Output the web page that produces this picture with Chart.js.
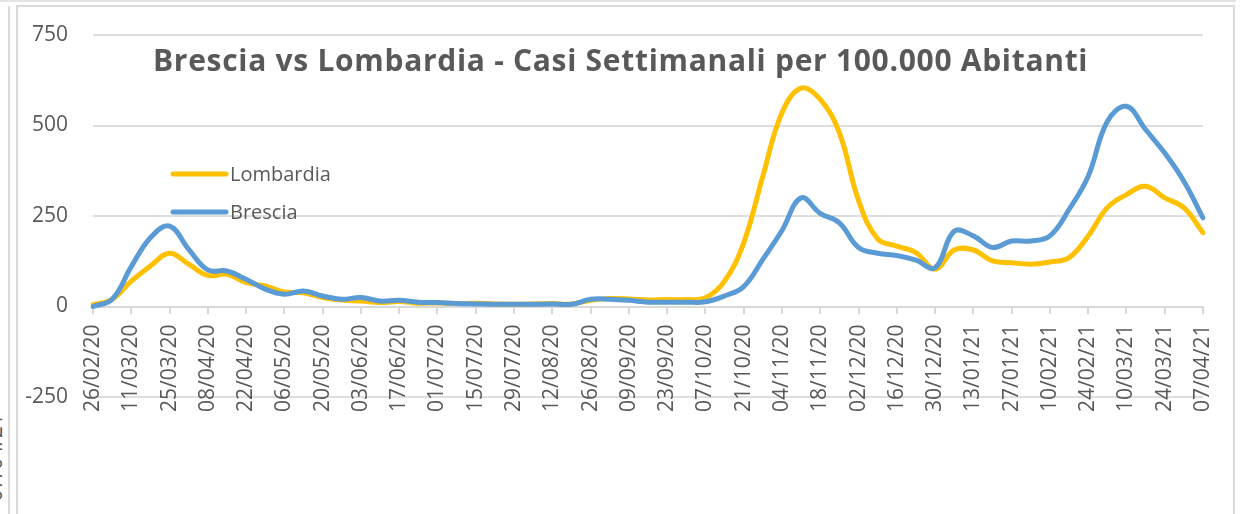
<!DOCTYPE html>
<html>
<head>
<meta charset="utf-8">
<script src="https://cdn.jsdelivr.net/npm/chart.js@4.4.1/dist/chart.umd.min.js"></script>
<style>
  html, body { margin: 0; padding: 0; background: #fff; width: 1246px; height: 514px; overflow: hidden; }
  .topline { position: absolute; left: 0; top: 0; width: 1236px; height: 2px; background: #e4e4e4; }
  .sideline { position: absolute; left: 8px; top: 6px; width: 2px; height: 520px; background: #dadada; }
  .frame { position: absolute; left: 16px; top: 5px; width: 1219px; height: 530px; box-sizing: border-box;
           border: 2px solid #dadada; border-bottom: none; }
  .cut { position: absolute; left: -20px; top: 414px; font: 21px 'Open Sans', sans-serif; color: #595959;
         writing-mode: vertical-rl; transform: rotate(180deg); }
  #chart { position: absolute; left: 19px; top: 7px; }
</style>
</head>
<body>
<div class="topline"></div>
<div class="sideline"></div>
<div class="cut">07/04/21</div>
<div class="frame"></div>
<canvas id="chart" width="1214" height="507"></canvas>
<script>
// weekly dates, one label is shown every two weeks
const weeks = [
  '26/02/20', '04/03/20', '11/03/20', '18/03/20', '25/03/20', '01/04/20', '08/04/20', '15/04/20',
  '22/04/20', '29/04/20', '06/05/20', '13/05/20', '20/05/20', '27/05/20', '03/06/20', '10/06/20',
  '17/06/20', '24/06/20', '01/07/20', '08/07/20', '15/07/20', '22/07/20', '29/07/20', '05/08/20',
  '12/08/20', '19/08/20', '26/08/20', '02/09/20', '09/09/20', '16/09/20', '23/09/20', '30/09/20',
  '07/10/20', '14/10/20', '21/10/20', '28/10/20', '04/11/20', '11/11/20', '18/11/20', '25/11/20',
  '02/12/20', '09/12/20', '16/12/20', '23/12/20', '30/12/20', '06/01/21', '13/01/21', '20/01/21',
  '27/01/21', '03/02/21', '10/02/21', '17/02/21', '24/02/21', '03/03/21', '10/03/21', '17/03/21',
  '24/03/21', '31/03/21', '07/04/21'
];

const lombardia = [
  5, 20, 70, 112, 147, 117, 86, 89, 66, 57, 40, 38, 25, 18, 15, 11, 14, 9,
  10, 8, 9, 7, 6, 7, 8, 7, 17, 22, 21, 18, 19, 19, 24, 70, 176, 360, 535, 603,
  572, 480, 293, 187, 167, 149, 103, 156, 156, 126, 121, 117, 123, 135, 195, 273,
  309, 332, 300, 273, 204
];

const brescia = [
  0, 20, 110, 190, 222, 158, 101, 98, 75, 48, 34, 43, 29, 20, 25, 15, 17, 12,
  11, 8, 7, 6, 6, 6, 7, 6, 20, 20, 17, 12, 12, 12, 13, 29, 55, 130, 210, 300,
  257, 231, 163, 147, 141, 128, 107, 208, 195, 163, 181, 181, 195, 268, 360, 511,
  553, 489, 424, 346, 245
];

const yMin = -250;
const yMax = 750;
const yStep = 250;
const chartTitle = 'Brescia vs Lombardia - Casi Settimanali per 100.000 Abitanti';

const textColor = '#595959';
const gridColor = '#dedede';

// title and legend sit inside the plot, drawn by hand
const overlay = {
  id: 'overlay',
  afterDraw(chart) {
    const ctx = chart.ctx;
    ctx.save();
    ctx.fillStyle = textColor;
    ctx.font = 'bold 30px "Open Sans"';
    ctx.letterSpacing = '0.7px';
    ctx.textBaseline = 'alphabetic';
    ctx.fillText(chartTitle, 134, 64);
    ctx.letterSpacing = '0px';
    ctx.font = '20px "Open Sans"';
    ctx.textBaseline = 'middle';
    chart.data.datasets.forEach((ds, i) => {
      const y = 167 + i * 38;
      ctx.strokeStyle = ds.borderColor;
      ctx.lineWidth = 5;
      ctx.lineCap = 'round';
      ctx.beginPath();
      ctx.moveTo(154, y);
      ctx.lineTo(207, y);
      ctx.stroke();
      ctx.fillText(ds.label, 211, y + 1);
    });
    ctx.restore();
  }
};

const config = {
  type: 'line',
  data: {
    labels: weeks,
    datasets: [
      {
        label: 'Lombardia',
        data: lombardia,
        borderColor: '#FFC000',
        backgroundColor: '#FFC000',
        borderWidth: 5,
        pointRadius: 0,
        tension: 0.4,
        borderCapStyle: 'round',
        borderJoinStyle: 'round',
        order: 1,
      },
      {
        label: 'Brescia',
        data: brescia,
        borderColor: '#5B9BD5',
        backgroundColor: '#5B9BD5',
        borderWidth: 5,
        pointRadius: 0,
        tension: 0.4,
        borderCapStyle: 'round',
        borderJoinStyle: 'round',
        order: 0,
      },
    ],
  },
  options: {
    responsive: false,
    animation: false,
    devicePixelRatio: 1,
    // x axis sits on the zero line, so it takes no room in the layout
    layout: { padding: { top: 28, right: 30, left: 0, bottom: 117 } },
    plugins: {
      legend: { display: false },
      title: { display: false },
      tooltip: { enabled: false },
    },
    scales: {
      x: {
        position: { y: 0 },
        offset: false,
        afterFit: (scale) => {
          scale.paddingLeft = 0;
          scale.paddingRight = 0;
        },
        grid: {
          drawOnChartArea: false,
          tickLength: 6,
          lineWidth: 2,
          color: (ctx) => (ctx.index % 2 === 0 ? '#d9d9d9' : 'rgba(0,0,0,0)'),
        },
        border: { display: true, color: '#d9d9d9', width: 2 },
        ticks: {
          autoSkip: false,
          minRotation: 90,
          maxRotation: 90,
          padding: 12,
          color: textColor,
          font: { family: 'Open Sans', size: 21 },
          callback: function (value, index) {
            return index % 2 === 0 ? this.getLabelForValue(value) : '';
          },
        },
      },
      y: {
        min: yMin,
        max: yMax,
        afterFit: (scale) => {
          scale.width = 74;
          scale.paddingTop = 0;
          scale.paddingBottom = 0;
        },
        grid: { color: gridColor, lineWidth: 2, drawTicks: false },
        border: { display: false },
        ticks: {
          stepSize: yStep,
          padding: 25,
          color: textColor,
          font: { family: 'Open Sans', size: 21 },
        },
      },
    },
  },
  plugins: [overlay],
};

const chart = new Chart(document.getElementById('chart'), config);
</script>
</body>
</html>
